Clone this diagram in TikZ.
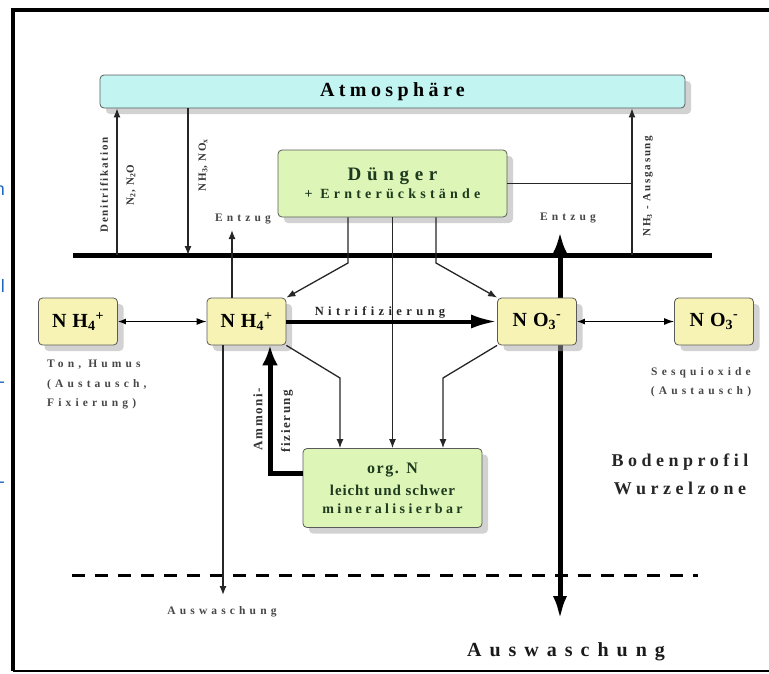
\documentclass[tikz,border=0pt]{standalone}
\usepackage{fontspec}
\setmainfont{Liberation Serif}
\newfontfamily\fragfont{Liberation Sans}
\usetikzlibrary{arrows.meta,shadows}

\definecolor{atmfill}{HTML}{C2F4F2}
\definecolor{dungfill}{HTML}{DDF5B6}
\definecolor{ionfill}{HTML}{F7F3B5}
\definecolor{boxline}{HTML}{5A5A5A}
\definecolor{textgreen}{HTML}{1E3A1E}
\definecolor{fragblue}{HTML}{1E66C0}

% bold, sized and letter spaced
\newcommand\spfont[3]{\bfseries\fontsize{#1}{#2}\selectfont\addfontfeatures{LetterSpace=#3}}

\tikzset{
  box/.style={draw=boxline, line width=0.8pt, rounded corners=4pt, inner sep=0pt,
    drop shadow={shadow xshift=6pt, shadow yshift=-6pt, fill=black!35}},
  atmbox/.style={box, fill=atmfill, minimum width=585pt, minimum height=33pt},
  greenbox/.style={box, fill=dungfill, align=center, text=textgreen},
  ionbox/.style={box, fill=ionfill, minimum width=79pt, minimum height=47pt,
    font=\spfont{20}{22}{30}},
  lbl/.style={font=\spfont{11.5}{19.5}{36}, text=black!72, inner sep=0pt},
  sidelbl/.style={font=\spfont{11}{12}{16}, text=black!80, inner sep=0pt, rotate=90},
  fraglbl/.style={font=\fragfont\fontsize{18}{20}\selectfont, text=fragblue, inner sep=0pt, anchor=east},
  flow/.style={-{Latex[length=9pt,width=7pt]}, line width=1.3pt, draw=black!85},
  link/.style={line width=1.2pt, draw=black!85},
  swap/.style={{Latex[length=8pt,width=6pt]}-{Latex[length=10pt,width=7pt]}, line width=1.2pt},
  nitri/.style={-{Latex[length=26pt,width=14pt]}, line width=4pt},
  ammon/.style={-{Latex[length=20pt,width=16pt]}, line width=5pt},
  bigflow/.style={{Latex[length=22pt,width=15pt]}-{Latex[length=24pt,width=14pt]}, line width=5pt},
  soilline/.style={line width=3pt, dash pattern=on 13pt off 10pt}
}

\begin{document}
\begin{tikzpicture}[x=1pt, y=-1pt]
	\useasboundingbox (0,0) rectangle (769,673);
	% frame
	\draw[line width=3.5pt] (769,10) -- (13,10) -- (13,671);
	\draw[line width=2pt] (13,671) -- (769,671);
	% cut off text beside the frame
	\node[fraglbl] (fraga) at (5,191) {n};
	\node[fraglbl] (fragb) at (5,286) {l};
	\node[fraglbl] (fragc) at (5,385) {-};
	\node[fraglbl] (fragd) at (5,485) {-};

	% uptake and leaching, runs behind NO3 box
	\coordinate (et) at (560,232);
	\coordinate (eb) at (560,620);
	\draw[bigflow] (et) -- (eb);

	% soil surface
	\coordinate (bl) at (73,255);
	\coordinate (br) at (712,255);
	\draw[line width=5pt] (bl) -- (br);

	% boxes
	\node[atmbox] (atm) at (392.5,91.5) {\spfont{20}{24}{22}Atmosphäre};
	\node[greenbox, minimum width=229pt, minimum height=67pt] (dung) at (392.5,183.5)
		{{\spfont{19}{24}{30}Dünger}\\[3pt]{\spfont{14}{16}{30}+ Ernterückstände}};
	\node[ionbox] (nhl) at (78,321.5) {NH\textsubscript{4}\textsuperscript{+}};
	\node[ionbox] (nhm) at (246.5,321.5) {NH\textsubscript{4}\textsuperscript{+}};
	\node[ionbox] (no3m) at (537,321.5) {NO\textsubscript{3}\textsuperscript{-}};
	\node[ionbox] (no3r) at (714,321.5) {NO\textsubscript{3}\textsuperscript{-}};
	\node[greenbox, minimum width=179pt, minimum height=79pt] (orgn) at (392.5,488)
		{{\spfont{16}{20}{10}org. N}\\[7pt]{\spfont{15}{21}{6}leicht und schwer}\\[6pt]{\spfont{14}{21}{24}mineralisierbar}};

	% exchange with the atmosphere
	\coordinate (den) at (117,255);
	\draw[flow] (den) -- (den |- atm.south);
	\coordinate (dep) at (188,255);
	\draw[flow] (dep |- atm.south) -- (dep);
	\coordinate (gas) at (632,255);
	\draw[flow] (gas) -- (gas |- atm.south);
	\draw[link] (dung.east) -- (dung.east -| gas);
	\node[sidelbl] (denl) at (104,185) {Denitrifikation};
	\node[sidelbl] (denr) at (131,185) {N\textsubscript{2}, N\textsubscript{2}O};
	\node[sidelbl] (depl) at (203,165) {NH\textsubscript{3}, NO\textsubscript{x}};
	\node[sidelbl] (gasl) at (648,186) {NH\textsubscript{3} - Ausgasung};

	% uptake
	\coordinate (entl) at (232,230);
	\draw[flow] (entl |- nhm.north) -- (entl);
	\node[lbl] (entzl) at (243,219) {Entzug};
	\node[lbl] (entzr) at (568,218) {Entzug};

	% fertiliser into the soil
	\coordinate (d1) at (348,263);
	\coordinate (d3) at (436,263);
	\draw[flow] (dung.south -| d1) -- (d1) -- (nhm.north east);
	\draw[flow] (dung.south) -- (orgn.north);
	\draw[flow] (dung.south -| d3) -- (d3) -- (no3m.north west);

	% exchange and nitrification
	\draw[swap] (nhl.east) -- (nhm.west);
	\draw[nitri] (nhm.east) -- (no3m.west);
	\draw[swap] (no3m.east) -- (no3r.west);
	\node[lbl, font=\spfont{12.5}{14}{35}, text=black!85] (nitl) at (380,312) {Nitrifizierung};
	\node[lbl, align=left, anchor=north west] (tonl) at (47,360) {Ton, Humus\\(Austausch,\\Fixierung)};
	\node[lbl, align=center, anchor=north] (sesl) at (701,367) {Sesquioxide\\(Austausch)};

	% immobilisation
	\coordinate (o1) at (340,378);
	\coordinate (o3) at (443,378);
	\draw[flow] (nhm.south east) -- (o1) -- (o1 |- orgn.north);
	\draw[flow] (no3m.south west) -- (o3) -- (o3 |- orgn.north);

	% ammonification
	\coordinate (am) at (270,473);
	\draw[ammon] (orgn.west |- am) -- (am) -- (am |- nhm.south);
	\node[sidelbl, font=\spfont{13}{14}{12}] (aml) at (258,419) {Ammoni-};
	\node[sidelbl, font=\spfont{13}{14}{12}] (amr) at (287,421) {fizierung};

	% root zone and leaching
	\coordinate (dl) at (72,575);
	\coordinate (dr) at (698,575);
	\draw[soilline] (dl) -- (dr);
	\coordinate (ausl) at (223,595);
	\draw[flow] (ausl |- nhm.south) -- (ausl);
	\node[lbl] (auss) at (222,612) {Auswaschung};
	\node[lbl, font=\spfont{20}{22}{40}, text=black!90] (ausb) at (566,652) {Auswaschung};
	\node[lbl, align=center, font=\spfont{18}{28}{25}, text=black!85] (zone) at (680,474) {Bodenprofil\\Wurzelzone};
\end{tikzpicture}
\end{document}
